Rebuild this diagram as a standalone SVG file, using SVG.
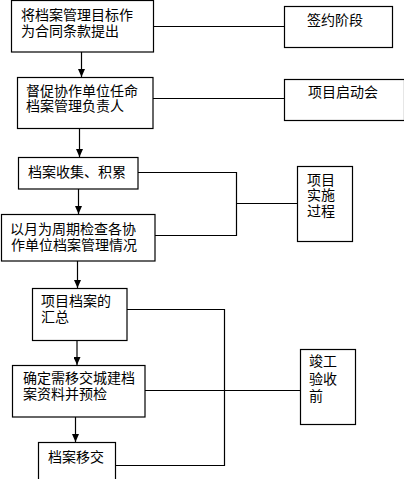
<svg xmlns="http://www.w3.org/2000/svg" width="404" height="479" viewBox="0 0 404 479">
<style>
rect{fill:#fff;stroke:#000;stroke-width:1.2}
text{font-family:"Noto Sans CJK SC","Noto Sans",sans-serif;font-size:14px;fill:#000}
.c{fill:none;stroke:#000;stroke-width:1.2}
</style>
<defs>
<marker id="ah" markerWidth="8" markerHeight="7" refX="8" refY="3.5" orient="auto" markerUnits="userSpaceOnUse">
<path d="M0,0 L8,3.5 L0,7 Z" fill="#000"/>
</marker>
</defs>
<g id="connectors">
<path class="c" d="M81.5,52 V77" marker-end="url(#ah)"/>
<path class="c" d="M153,26.5 H284"/>
<path class="c" d="M153,98.5 H284"/>
<path class="c" d="M79.5,128 V157" marker-end="url(#ah)"/>
<path class="c" d="M78.5,189 V214" marker-end="url(#ah)"/>
<path class="c" d="M138,172.5 H236.5 V235.5 H155"/>
<path class="c" d="M236.5,203.5 H297"/>
<path class="c" d="M77.5,261 V288" marker-end="url(#ah)"/>
<path class="c" d="M77,340 V365" marker-end="url(#ah)"/>
<path class="c" d="M75.5,417 V442" marker-end="url(#ah)"/>
<path class="c" d="M127,309.5 H224.5 V465.5 H115"/>
<path class="c" d="M145,390.5 H300"/>
</g>
<g id="n1"><rect x="11.5" y="0.5" width="142" height="51.5"/><text x="21" y="20">将档案管理目标作</text><text x="21" y="36">为合同条款提出</text></g>
<g id="s1"><rect x="284.5" y="6.5" width="108" height="41"/><text x="307" y="25">签约阶段</text></g>
<g id="n2"><rect x="17.5" y="77.5" width="135.5" height="51"/><text x="26" y="96">督促协作单位任命</text><text x="26" y="111">档案管理负责人</text></g>
<g id="s2"><rect x="284.5" y="79.5" width="120" height="41"/><text x="308" y="97">项目启动会</text></g>
<g id="n3"><rect x="18.5" y="157.5" width="119.5" height="31.5"/><text x="28" y="177">档案收集、积累</text></g>
<g id="s3"><rect x="297.5" y="166.5" width="55" height="75"/><text x="307" y="185">项目</text><text x="307" y="200">实施</text><text x="307" y="216">过程</text></g>
<g id="n4"><rect x="1.5" y="214.5" width="153.5" height="46.5"/><text x="10" y="234">以月为周期检查各协</text><text x="11" y="250">作单位档案管理情况</text></g>
<g id="n5"><rect x="32.5" y="288.5" width="94.5" height="52"/><text x="41" y="306">项目档案的</text><text x="41" y="322">汇总</text></g>
<g id="s4"><rect x="300.5" y="349.5" width="55" height="75"/><text x="309" y="366">竣工</text><text x="309" y="384">验收</text><text x="309" y="401">前</text></g>
<g id="n6"><rect x="12.5" y="365.5" width="132.5" height="51.5"/><text x="23" y="383">确定需移交城建档</text><text x="23" y="399">案资料并预检</text></g>
<g id="n7"><rect x="38.5" y="442.5" width="77" height="50"/><text x="48" y="462">档案移交</text></g>
</svg>
